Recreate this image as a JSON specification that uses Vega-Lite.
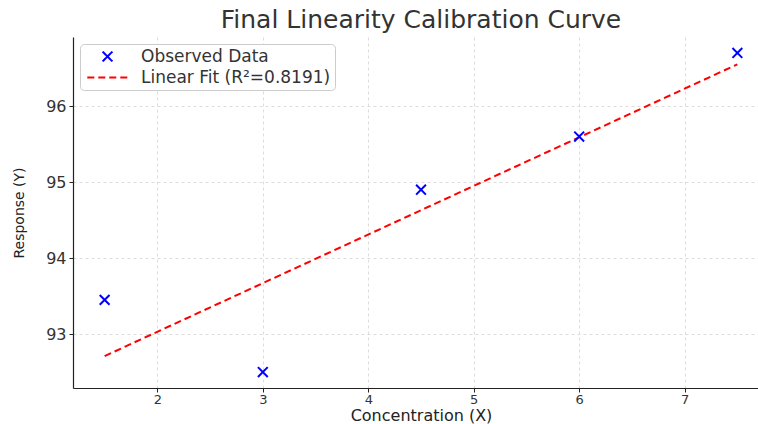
{
  "$schema": "https://vega.github.io/schema/vega-lite/v6.json",
  "autosize": "none",
  "width": 696,
  "height": 351,
  "padding": {"left": 73, "top": 37, "right": 0, "bottom": 36},
  "background": "white",
  "config": {
    "font": "DejaVu Sans",
    "view": {"stroke": null},
    "axis": {
      "domainColor": "#222",
      "domainWidth": 1.2,
      "tickColor": "#222",
      "tickSize": 4,
      "labelColor": "#333",
      "titleFontWeight": "normal",
      "titleColor": "#222",
      "gridColor": "#dcdcdc",
      "gridDash": [3, 3],
      "gridWidth": 1
    },
    "title": {"fontSize": 25, "fontWeight": "normal", "color": "#333", "offset": 4}
  },
  "title": {"text": "Final Linearity Calibration Curve", "anchor": "middle"},
  "datasets": {
    "obs": [
      {"x": 1.5, "y": 93.45, "series": "Observed Data"},
      {"x": 3.0, "y": 92.5, "series": "Observed Data"},
      {"x": 4.5, "y": 94.9, "series": "Observed Data"},
      {"x": 6.0, "y": 95.6, "series": "Observed Data"},
      {"x": 7.5, "y": 96.7, "series": "Observed Data"}
    ],
    "fit": [
      {"x": 1.5, "y": 92.71, "series": "Linear Fit (R²=0.8191)"},
      {"x": 7.5, "y": 96.55, "series": "Linear Fit (R²=0.8191)"}
    ]
  },
  "layer": [
    {
      "data": {"name": "fit"},
      "mark": {"type": "line", "strokeDash": [7, 4], "strokeWidth": 2},
      "encoding": {
        "x": {"field": "x", "type": "quantitative", "scale": {"domain": [1.2, 7.8], "nice": false, "zero": false},
              "axis": {"values": [2, 3, 4, 5, 6, 7], "format": "d", "title": "Concentration (X)", "titleFontSize": 16, "titlePadding": 1, "labelFontSize": 13, "labelPadding": 1}},
        "y": {"field": "y", "type": "quantitative", "scale": {"domain": [92.29, 96.91], "nice": false, "zero": false},
              "axis": {"values": [93, 94, 95, 96], "format": "d", "title": "Response (Y)", "titleFontSize": 14, "titlePadding": 19, "labelFontSize": 16, "labelPadding": 3}},
        "color": {
          "field": "series", "type": "nominal",
          "scale": {"domain": ["Observed Data", "Linear Fit (R²=0.8191)"], "range": ["#0000ff", "#ff0000"]},
          "legend": {
            "title": null,
            "orient": "top-left",
            "offset": 7,
            "fillColor": "white",
            "strokeColor": "#cccccc",
            "cornerRadius": 4,
            "padding": 4,
            "labelFontSize": 17,
            "labelColor": "#333",
            "labelOffset": 25,
            "labelLimit": 400,
            "rowPadding": 2,
            "symbolSize": 150,
            "symbolOffset": 15,
            "symbolStrokeWidth": 2,
            "encode": {
              "symbols": {
                "update": {
                  "strokeDash": {"signal": "datum.value === 'Observed Data' ? [1,0] : [7,4]"},
                  "fill": {"value": "transparent"}
                }
              }
            }
          }
        },
        "shape": {
          "field": "series", "type": "nominal",
          "scale": {"domain": ["Observed Data", "Linear Fit (R²=0.8191)"], "range": ["M-0.8,-0.8L0.8,0.8M-0.8,0.8L0.8,-0.8", "M-3.3,0L3.3,0"]}
        }
      }
    },
    {
      "data": {"name": "obs"},
      "mark": {"type": "point", "filled": false, "strokeWidth": 2, "size": 150, "opacity": 1},
      "encoding": {
        "x": {"field": "x", "type": "quantitative"},
        "y": {"field": "y", "type": "quantitative"},
        "color": {"field": "series", "type": "nominal"},
        "shape": {"field": "series", "type": "nominal"}
      }
    }
  ]
}
